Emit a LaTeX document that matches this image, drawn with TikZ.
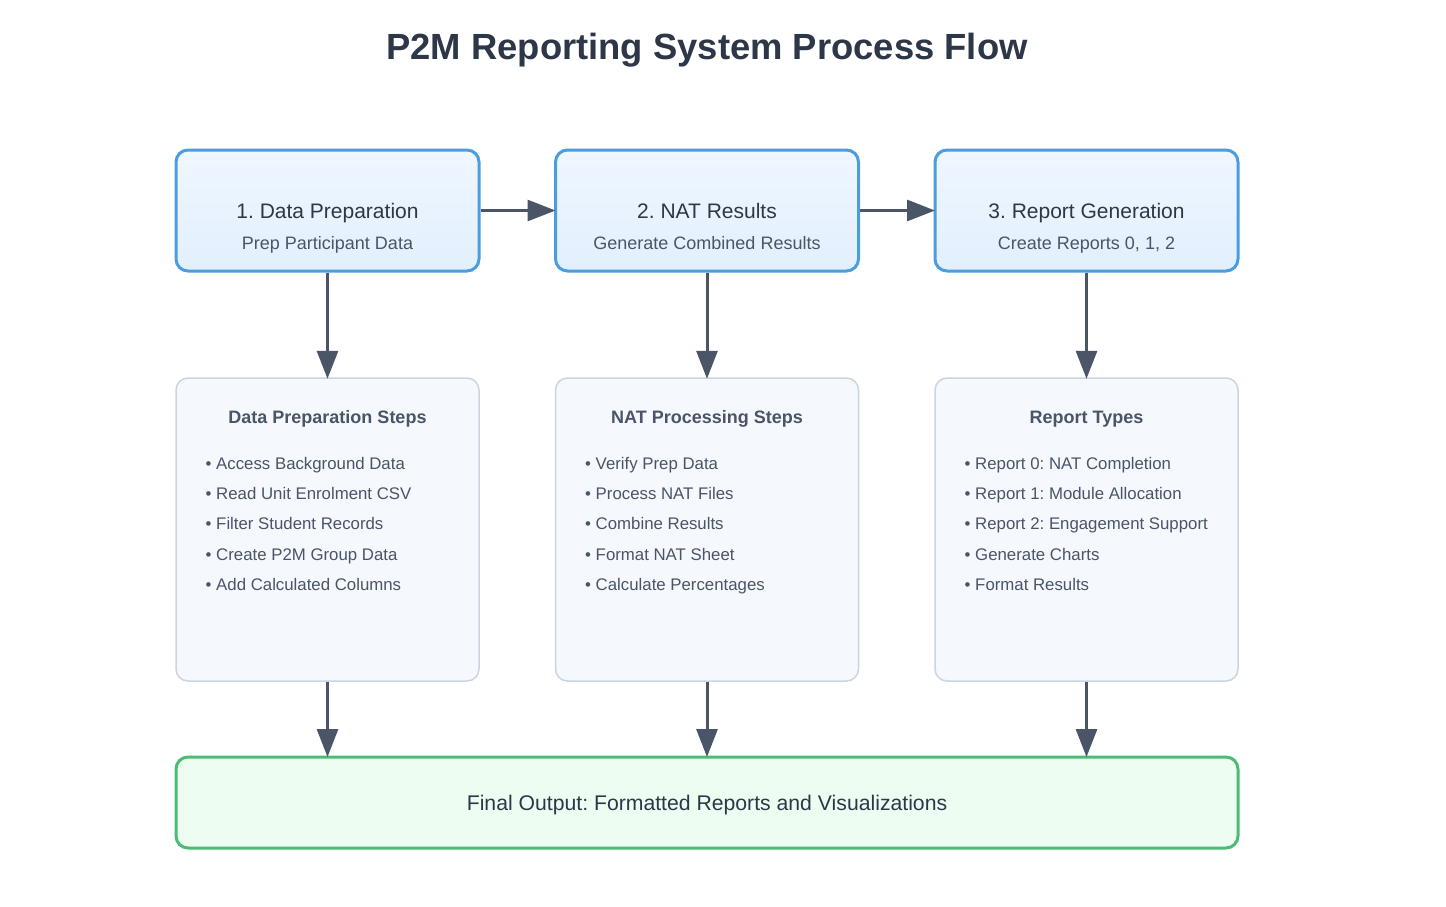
\documentclass[tikz,border=0pt]{standalone}
\usepackage{fontspec}
\setmainfont{Liberation Sans}
\frenchspacing
\usetikzlibrary{arrows.meta}
\definecolor{ink}{HTML}{2D3748}
\definecolor{subink}{HTML}{4A5568}
\definecolor{arrowc}{HTML}{4A5568}
\definecolor{blueedge}{HTML}{4A9DE0}
\definecolor{bluetop}{HTML}{EFF7FF}
\definecolor{bluebot}{HTML}{E2EFFD}
\definecolor{grayedge}{HTML}{CBD5E1}
\definecolor{grayfill}{HTML}{F5F8FC}
\definecolor{greenedge}{HTML}{4CBB74}
\definecolor{greenfill}{HTML}{EEFDF1}
\tikzset{
  x=1pt, y=-1pt,
  stagebox/.style={draw=blueedge, line width=3pt, rounded corners=12pt,
    top color=bluetop, bottom color=bluebot, minimum width=303pt, minimum height=121pt,
    inner sep=0pt},
  detailbox/.style={draw=grayedge, line width=1.5pt, rounded corners=12pt,
    fill=grayfill, minimum width=303pt, minimum height=303pt, inner sep=0pt},
  finalbox/.style={draw=greenedge, line width=3pt, rounded corners=12pt,
    fill=greenfill, minimum width=1062pt, minimum height=91pt, inner sep=0pt},
  flow/.style={draw=arrowc, line width=3pt, -{Triangle[length=28pt,width=21pt]}, shorten >=-1.5pt},
  stagetitle/.style={font=\fontsize{21}{25}\selectfont, text=ink, anchor=base, inner sep=0pt},
  stagesub/.style={font=\fontsize{18}{21}\selectfont, text=subink, anchor=base, inner sep=0pt},
  listhead/.style={font=\fontsize{18}{21}\selectfont\bfseries, text=subink, anchor=base, inner sep=0pt},
  listitem/.style={font=\fontsize{16.8}{20}\selectfont, text=subink, anchor=base west, inner sep=0pt},
}
\begin{document}
\begin{tikzpicture}
\useasboundingbox (0,0) rectangle (1446,906);
\fill[white] (0,0) rectangle (1446,906);

\node[font=\fontsize{36.4}{42}\selectfont\bfseries, text=ink, anchor=base, inner sep=0pt] (title) at (707,59) {P2M Reporting System Process Flow};

% stage boxes
\node[stagebox] (s1) at (327.5,210.5) {};
\node[stagebox] (s2) at (707,210.5) {};
\node[stagebox] (s3) at (1086.5,210.5) {};
\node[stagetitle] (s1t) at (327.5,218) {1. Data Preparation};
\node[stagesub] (s1s) at (327.5,249) {Prep Participant Data};
\node[stagetitle] (s2t) at (707,218) {2. NAT Results};
\node[stagesub] (s2s) at (707,249) {Generate Combined Results};
\node[stagetitle] (s3t) at (1086.5,218) {3. Report Generation};
\node[stagesub] (s3s) at (1086.5,249) {Create Reports 0, 1, 2};

% detail boxes
\node[detailbox] (d1) at (327.5,529.5) {};
\node[detailbox] (d2) at (707,529.5) {};
\node[detailbox] (d3) at (1086.5,529.5) {};
\node[listhead] (d1h) at (327.5,423) {Data Preparation Steps};
\node[listhead] (d2h) at (707,423) {NAT Processing Steps};
\node[listhead] (d3h) at (1086.5,423) {Report Types};

\node[listitem] (a1) at (205.5,469) {• Access Background Data};
\node[listitem] (a2) at (205.5,499) {• Read Unit Enrolment CSV};
\node[listitem] (a3) at (205.5,529) {• Filter Student Records};
\node[listitem] (a4) at (205.5,560) {• Create P2M Group Data};
\node[listitem] (a5) at (205.5,590) {• Add Calculated Columns};

\node[listitem] (b1) at (585,469) {• Verify Prep Data};
\node[listitem] (b2) at (585,499) {• Process NAT Files};
\node[listitem] (b3) at (585,529) {• Combine Results};
\node[listitem] (b4) at (585,560) {• Format NAT Sheet};
\node[listitem] (b5) at (585,590) {• Calculate Percentages};

\node[listitem] (c1) at (964.5,469) {• Report 0: NAT Completion};
\node[listitem] (c2) at (964.5,499) {• Report 1: Module Allocation};
\node[listitem] (c3) at (964.5,529) {• Report 2: Engagement Support};
\node[listitem] (c4) at (964.5,560) {• Generate Charts};
\node[listitem] (c5) at (964.5,590) {• Format Results};

% final output
\node[finalbox] (fin) at (707,802.5) {};
\node[font=\fontsize{21.2}{25}\selectfont, text=ink, anchor=base, inner sep=0pt] (fint) at (707,810) {Final Output: Formatted Reports and Visualizations};

% connectors
\draw[flow] (s1.east) -- (s2.west);
\draw[flow] (s2.east) -- (s3.west);
\draw[flow] (s1.south) -- (d1.north);
\draw[flow] (s2.south) -- (d2.north);
\draw[flow] (s3.south) -- (d3.north);
\draw[flow] (d1.south) -- (d1.south |- fin.north);
\draw[flow] (d2.south) -- (fin.north);
\draw[flow] (d3.south) -- (d3.south |- fin.north);
\end{tikzpicture}
\end{document}
